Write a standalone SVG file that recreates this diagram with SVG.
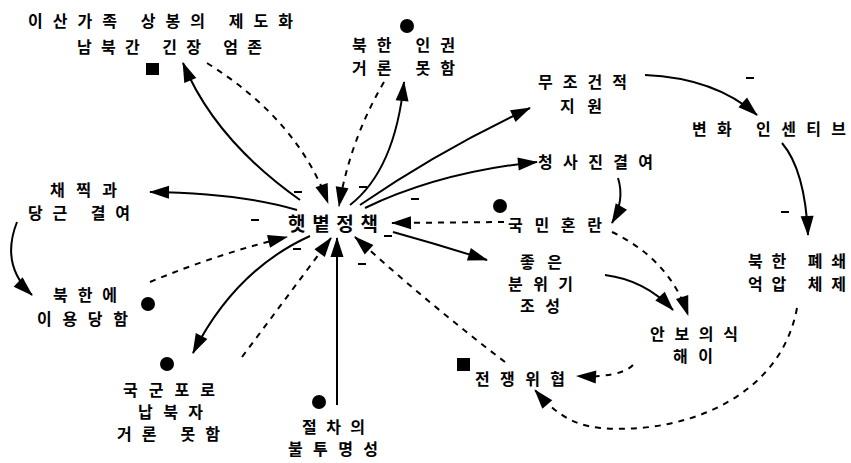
<svg xmlns="http://www.w3.org/2000/svg" width="851" height="463" viewBox="0 0 851 463">
<style>
text{font-family:"Noto Sans CJK KR","Noto Sans",sans-serif;font-weight:bold;font-size:16px;fill:#000}
.c{fill:none;stroke:#000;stroke-width:2}
.d{fill:none;stroke:#000;stroke-width:2;stroke-dasharray:6 6}
.m{stroke:#000;stroke-width:2}
</style>
<defs>
<marker id="ah" markerUnits="userSpaceOnUse" markerWidth="20" markerHeight="13" refX="19" refY="6.5" orient="auto" overflow="visible">
<path d="M0,0 L20,6.5 L0,13 z" fill="#000"/>
</marker>
</defs>
<rect width="851" height="463" fill="#fff"/>
<g id="connectors">
<path class="d" d="M207 63 Q298 120 328 203" marker-end="url(#ah)"/>
<path class="d" d="M384 82 Q350 140 339 206" marker-end="url(#ah)"/>
<path class="d" d="M150 282 Q220 253 287 237" marker-end="url(#ah)"/>
<path class="d" d="M242 357 L331 238" marker-end="url(#ah)"/>
<path class="c" d="M337 405 L337 238" marker-end="url(#ah)"/>
<path class="d" d="M505 362 Q430 305 355 237" marker-end="url(#ah)"/>
<path class="d" d="M504 222 L392 223" marker-end="url(#ah)"/>
<path class="c" d="M300 200 Q215 140 183 63" marker-end="url(#ah)"/>
<path class="c" d="M297 210 Q240 193 150 192" marker-end="url(#ah)"/>
<path class="c" d="M350 205 Q395 170 404 82" marker-end="url(#ah)"/>
<path class="c" d="M360 205 Q440 150 530 108" marker-end="url(#ah)"/>
<path class="c" d="M365 208 Q440 172 537 162" marker-end="url(#ah)"/>
<path class="c" d="M393 232 Q440 245 487 260" marker-end="url(#ah)"/>
<path class="c" d="M310 236 Q235 270 193 353" marker-end="url(#ah)"/>
<path class="c" d="M645 75 Q715 78 757 115" marker-end="url(#ah)"/>
<path class="c" d="M782 143 Q805 170 808 235" marker-end="url(#ah)"/>
<path class="c" d="M618 178 Q625 200 612 223" marker-end="url(#ah)"/>
<path class="d" d="M612 232 Q670 260 688 315" marker-end="url(#ah)"/>
<path class="c" d="M605 275 Q645 280 673 310" marker-end="url(#ah)"/>
<path class="d" d="M633 365 Q620 378 577 376" marker-end="url(#ah)"/>
<path class="d" d="M797 308 C780 400 680 435 600 428 C570 425 552 410 535 390" marker-end="url(#ah)"/>
<path class="c" d="M17 222 Q0 265 32 295" marker-end="url(#ah)"/>
<g id="signs">
<line class="m" x1="294" y1="192" x2="302" y2="192"/>
<line class="m" x1="359" y1="187" x2="367" y2="187"/>
<line class="m" x1="411" y1="199" x2="419" y2="199"/>
<line class="m" x1="251" y1="220" x2="259" y2="220"/>
<line class="m" x1="384" y1="236" x2="392" y2="236"/>
<line class="m" x1="293" y1="249" x2="301" y2="249"/>
<line class="m" x1="358" y1="264" x2="366" y2="264"/>
<line class="m" x1="746" y1="78" x2="754" y2="78"/>
<line class="m" x1="781" y1="212" x2="789" y2="212"/>
</g>
</g>
<g id="n-sunshine"><text x="288" y="231" textLength="90" lengthAdjust="spacing" style="font-size:19px">햇볕정책</text></g>
<g id="n-reunion"><text x="28" y="27" textLength="265" lengthAdjust="spacing">이산가족 상봉의 제도화</text></g>
<g id="n-tension"><text x="77" y="53" textLength="185" lengthAdjust="spacing">남북간 긴장 엄존</text><rect x="146" y="63" width="13" height="12" fill="#000"/></g>
<g id="n-humanrights"><circle cx="407" cy="26" r="7" fill="#000"/><text x="352" y="51" textLength="103" lengthAdjust="spacing">북한 인권</text><text x="352" y="74" textLength="103" lengthAdjust="spacing">거론 못함</text></g>
<g id="n-uncond"><text x="538" y="88" textLength="89" lengthAdjust="spacing">무조건적</text><text x="560" y="112" textLength="42" lengthAdjust="spacing">지원</text></g>
<g id="n-incentive"><text x="692" y="135" textLength="154" lengthAdjust="spacing">변화 인센티브</text></g>
<g id="n-blueprint"><text x="538" y="168" textLength="115" lengthAdjust="spacing">청사진결여</text></g>
<g id="n-confusion"><circle cx="500" cy="206" r="7" fill="#000"/><text x="508" y="231" textLength="94" lengthAdjust="spacing">국민혼란</text></g>
<g id="n-mood"><text x="520" y="268" textLength="42" lengthAdjust="spacing">좋은</text><text x="508" y="290" textLength="65" lengthAdjust="spacing">분위기</text><text x="520" y="312" textLength="40" lengthAdjust="spacing">조성</text></g>
<g id="n-security"><text x="650" y="340" textLength="88" lengthAdjust="spacing">안보의식</text><text x="673" y="362" textLength="40" lengthAdjust="spacing">해이</text></g>
<g id="n-war"><rect x="457" y="358" width="13" height="13" fill="#000"/><text x="475" y="385" textLength="90" lengthAdjust="spacing">전쟁위협</text></g>
<g id="n-closed"><text x="748" y="267" textLength="98" lengthAdjust="spacing">북한 폐쇄</text><text x="748" y="290" textLength="98" lengthAdjust="spacing">억압 체제</text></g>
<g id="n-carrot"><text x="50" y="196" textLength="67" lengthAdjust="spacing">채찍과</text><text x="28" y="219" textLength="102" lengthAdjust="spacing">당근 결여</text></g>
<g id="n-used"><text x="53" y="301" textLength="64" lengthAdjust="spacing">북한에</text><text x="37" y="325" textLength="91" lengthAdjust="spacing">이용당함</text><circle cx="148" cy="304" r="7" fill="#000"/></g>
<g id="n-pow"><circle cx="167" cy="364" r="7" fill="#000"/><text x="123" y="396" textLength="92" lengthAdjust="spacing">국군포로</text><text x="138" y="418" textLength="65" lengthAdjust="spacing">납북자</text><text x="117" y="440" textLength="103" lengthAdjust="spacing">거론 못함</text></g>
<g id="n-opaque"><circle cx="319" cy="402" r="7" fill="#000"/><text x="302" y="433" textLength="63" lengthAdjust="spacing">절차의</text><text x="288" y="455" textLength="90" lengthAdjust="spacing">불투명성</text></g>
</svg>
